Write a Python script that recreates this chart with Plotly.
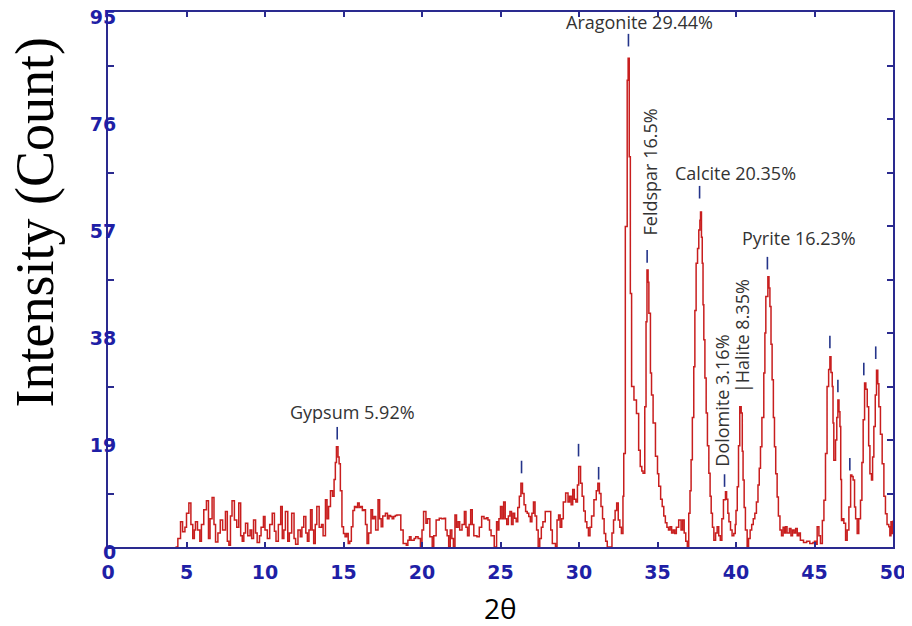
import plotly.graph_objects as go

# XRD trace (2-theta in degrees, intensity in counts)
two_theta = [
    4.3, 4.45, 4.62, 4.75, 4.9, 5.0, 5.15, 5.28, 5.4, 5.5,
    5.57, 5.7, 5.85, 5.95, 6.1, 6.27, 6.4, 6.5, 6.63, 6.75,
    6.85, 7.0, 7.15, 7.3, 7.48, 7.6, 7.7, 7.8, 7.9, 8.05,
    8.2, 8.33, 8.45, 8.55, 8.65, 8.76, 8.9, 9.05, 9.15, 9.27,
    9.4, 9.5, 9.65, 9.75, 9.9, 10.0, 10.15, 10.3, 10.46, 10.6,
    10.7, 10.85, 11.0, 11.1, 11.2, 11.3, 11.45, 11.55, 11.7, 11.85,
    11.95, 12.1, 12.25, 12.35, 12.47, 12.6, 12.7, 12.8, 12.9, 13.0,
    13.1, 13.2, 13.3, 13.45, 13.6, 13.7, 13.85, 13.95, 14.05, 14.17,
    14.3, 14.4, 14.48, 14.55, 14.65, 14.72, 14.8, 14.9, 15.0, 15.1,
    15.2, 15.3, 15.4, 15.5, 15.6, 15.7, 15.8, 15.9, 16.0, 16.1,
    16.2, 16.3, 16.4, 16.5, 16.6, 16.75, 16.85, 16.95, 17.05, 17.2,
    17.3, 17.4, 17.5, 17.67, 17.8, 17.9, 18.0, 18.1, 18.2, 18.3,
    18.4, 18.55, 18.65, 18.8, 19.0, 19.1, 19.2, 19.3, 19.5, 19.6,
    19.75, 19.9, 20.0, 20.1, 20.25, 20.35, 20.5, 20.65, 20.75, 20.9,
    21.1, 21.25, 21.4, 21.5, 21.6, 21.7, 21.8, 21.9, 22.0, 22.1,
    22.2, 22.3, 22.4, 22.55, 22.7, 22.8, 22.9, 23.0, 23.1, 23.2,
    23.3, 23.5, 23.65, 23.8, 23.95, 24.1, 24.2, 24.3, 24.4, 24.6,
    24.75, 24.85, 24.9, 25.0, 25.1, 25.2, 25.3, 25.4, 25.5, 25.6,
    25.7, 25.8, 25.9, 26.0, 26.1, 26.2, 26.3, 26.4, 26.5, 26.6,
    26.7, 26.8, 26.9, 27.0, 27.1, 27.2, 27.3, 27.4, 27.5, 27.6,
    27.7, 27.85, 28.1, 28.2, 28.3, 28.5, 28.6, 28.7, 28.8, 28.9,
    29.0, 29.15, 29.3, 29.4, 29.5, 29.6, 29.7, 29.8, 29.9, 29.98,
    30.1, 30.2, 30.3, 30.4, 30.5, 30.6, 30.7, 30.8, 30.95, 31.1,
    31.2, 31.3, 31.4, 31.5, 31.6, 31.7, 31.8, 32.0, 32.1, 32.2,
    32.3, 32.4, 32.5, 32.6, 32.7, 32.8, 32.85, 32.95, 33.07, 33.13,
    33.2, 33.27, 33.35, 33.5, 33.66, 33.8, 33.9, 34.0, 34.08, 34.19,
    34.27, 34.33, 34.4, 34.45, 34.55, 34.62, 34.72, 34.87, 35.0, 35.08,
    35.2, 35.3, 35.4, 35.5, 35.6, 35.7, 35.8, 35.9, 36.0, 36.1,
    36.2, 36.35, 36.5, 36.6, 36.7, 36.8, 36.9, 36.99, 37.07, 37.14,
    37.22, 37.31, 37.38, 37.46, 37.55, 37.63, 37.7, 37.74, 37.8, 37.85,
    37.9, 37.95, 38.02, 38.1, 38.18, 38.27, 38.35, 38.42, 38.5, 38.59,
    38.7, 38.8, 38.9, 39.0, 39.1, 39.2, 39.33, 39.4, 39.48, 39.55,
    39.65, 39.75, 39.86, 39.95, 40.0, 40.08, 40.16, 40.24, 40.33, 40.4,
    40.45, 40.52, 40.6, 40.71, 40.8, 40.9, 41.0, 41.1, 41.2, 41.3,
    41.4, 41.48, 41.56, 41.65, 41.77, 41.84, 41.9, 42.03, 42.1, 42.16,
    42.23, 42.3, 42.38, 42.45, 42.53, 42.62, 42.7, 42.8, 42.9, 43.0,
    43.1, 43.15, 43.25, 43.4, 43.5, 43.6, 43.7, 43.8, 43.9, 44.0,
    44.1, 44.3, 44.5, 44.7, 44.9, 45.0, 45.1, 45.17, 45.28, 45.38,
    45.5, 45.6, 45.7, 45.8, 45.9, 45.98, 46.05, 46.13, 46.18, 46.23,
    46.34, 46.42, 46.49, 46.56, 46.62, 46.67, 46.72, 46.8, 46.87, 46.98,
    47.08, 47.19, 47.3, 47.38, 47.46, 47.55, 47.62, 47.72, 47.82, 47.93,
    48.02, 48.1, 48.19, 48.27, 48.36, 48.45, 48.53, 48.63, 48.7, 48.78,
    48.87, 48.95, 49.03, 49.1, 49.2, 49.31, 49.42, 49.52, 49.62, 49.73,
    49.8, 49.87, 49.94, 50.0,
]
counts = [
    0, 1.5, 4.5, 2.7, 3.5, 6.0, 7.8, 4.0, 1.5, 3.0,
    4.5, 3.0, 1.0, 4.0, 6.6, 8.2, 1.5, 5.0, 8.8, 4.0,
    0.9, 2.5, 4.8, 3.0, 6.3, 1.0, 0.3, 5.5, 8.2, 4.8,
    3.5, 7.8, 2.0, 1.0, 2.5, 4.2, 2.0, 3.0, 1.5, 4.8,
    2.5, 0.8, 2.0, 3.5, 5.4, 3.0, 1.5, 4.0, 6.0, 2.8,
    1.0, 4.0, 7.2, 1.5, 3.0, 6.3, 1.0, 2.5, 6.0, 1.5,
    0.5, 3.0, 1.8, 3.5, 5.4, 2.5, 1.0, 3.0, 6.6, 3.0,
    0.6, 4.0, 7.2, 3.5, 4.0, 2.0, 8.4, 5.0, 7.2, 10.0,
    9.0, 12.0, 15.0, 17.8, 16.0, 14.8, 10.0, 3.6, 2.4, 1.8,
    2.4, 0.6, 1.0, 3.6, 6.5, 7.2, 7.0, 7.8, 7.0, 7.2,
    6.5, 6.6, 4.0, 0.6, 2.5, 6.6, 5.0, 5.4, 3.0, 8.4,
    5.0, 3.6, 5.5, 6.0, 5.0, 5.6, 5.4, 5.0, 5.4, 5.6,
    5.7, 5.7, 3.0, 0.6, 0.3, 1.2, 1.8, 1.2, 1.5, 1.8,
    1.5, 0, 3.0, 6.3, 4.2, 5.0, 1.8, 0, 2.0, 4.8,
    5.1, 5.0, 5.1, 3.0, 2.0, 0, 3.0, 1.5, 0, 5.7,
    3.5, 4.5, 3.0, 4.0, 6.3, 3.5, 2.0, 4.0, 6.6, 4.0,
    2.0, 1.8, 3.5, 5.4, 5.0, 5.2, 4.8, 3.0, 2.0, 0,
    4.5, 3.0, 5.0, 7.2, 5.0, 8.0, 5.0, 4.0, 5.5, 6.3,
    4.0, 6.0, 5.1, 4.5, 7.0, 9.0, 11.3, 9.5, 7.5, 6.3,
    6.0, 5.4, 4.5, 6.0, 8.0, 5.5, 3.0, 0, 1.5, 3.5,
    4.5, 6.3, 6.3, 3.0, 0.6, 0, 4.8, 5.7, 3.5, 5.0,
    8.0, 9.6, 8.0, 9.0, 7.5, 10.2, 8.5, 8.0, 11.0, 14.3,
    11.3, 9.0, 6.4, 4.5, 3.4, 2.0, 3.5, 5.5, 8.4, 10.0,
    11.3, 9.5, 7.2, 5.0, 2.4, 1.0, 0, 0, 2.5, 4.8,
    6.5, 7.8, 4.8, 3.5, 2.4, 9.0, 16.6, 56.9, 82.9, 86.8,
    69.3, 45.0, 28.5, 26.1, 23.7, 17.2, 14.3, 13.5, 13.1, 24.9,
    40.0, 49.2, 47.0, 41.5, 30.9, 27.0, 22.0, 16.1, 13.0, 10.8,
    8.5, 7.2, 5.5, 4.3, 3.5, 3.0, 3.6, 2.5, 3.0, 2.4,
    3.5, 4.8, 3.0, 4.8, 2.5, 1.0, 0, 6.0, 10.0, 15.5,
    23.0, 32.0, 42.0, 50.4, 53.0, 56.3, 58.0, 59.5, 55.0, 50.4,
    43.0, 36.8, 30.0, 23.8, 18.0, 13.1, 9.0, 6.0, 3.5, 1.2,
    2.5, 3.6, 2.0, 1.2, 5.0, 8.4, 9.8, 8.5, 6.0, 4.5,
    3.0, 2.0, 2.4, 4.0, 6.5, 10.7, 18.0, 24.9, 23.8, 17.0,
    11.9, 7.0, 3.0, 0, 1.5, 3.0, 4.0, 5.0, 6.0, 8.0,
    11.0, 14.0, 17.8, 23.0, 30.9, 38.0, 44.5, 48.0, 46.0, 42.7,
    36.0, 29.7, 23.0, 17.8, 13.0, 8.9, 5.5, 3.0, 2.0, 3.5,
    2.5, 3.6, 2.5, 3.3, 2.0, 3.0, 2.5, 3.3, 2.0, 2.5,
    1.2, 0.8, 1.0, 0.6, 0.8, 1.0, 0.5, 3.6, 2.0, 0.6,
    4.7, 8.3, 16.6, 28.5, 31.5, 33.8, 31.0, 28.5, 22.0, 15.4,
    19.0, 23.0, 26.1, 24.0, 21.4, 12.0, 4.7, 5.0, 4.2, 1.2,
    3.0, 7.1, 12.8, 12.5, 11.9, 7.1, 5.0, 2.4, 5.0, 8.3,
    15.0, 22.6, 29.1, 28.0, 24.9, 18.0, 13.0, 11.9, 16.0, 21.4,
    27.0, 31.4, 29.0, 24.9, 20.0, 14.8, 9.0, 5.9, 4.0, 3.6,
    2.0, 4.5, 2.4, 4.7,
]

# identified reflections (small blue tick marks above the peaks)
peak_theta = [14.6, 26.34, 29.97, 31.25, 33.15, 34.34, 37.68, 39.27, 42.0,
              45.98, 46.49, 47.25, 48.14, 48.9]
peak_mark = [20.2, 14.2, 17.2, 13.1, 90.0, 51.6, 63.0, 11.8, 50.4,
             36.4, 28.6, 14.7, 31.6, 34.5]

# phase labels: text, 2theta, intensity, rotated?
phase_text = ["Gypsum 5.92%", "Aragonite 29.44%", "Feldspar 16.5%", "Calcite 20.35%",
              "Pyrite 16.23%", "Dolomite 3.16%", "|Halite 8.35%"]
phase_x = [15.6, 33.85, 34.49, 39.95, 44.0, 39.14, 40.4]
phase_y = [24.0, 93.2, 66.6, 66.4, 54.9, 25.9, 37.5]
phase_rot = [False, False, True, False, False, True, True]

y_ticks = [0, 19, 38, 57, 76, 95]
x_ticks = [0, 5, 10, 15, 20, 25, 30, 35, 40, 45, 50]

navy = "#2a2a8f"
label_blue = "#1f1fa6"

fig = go.Figure()
fig.add_trace(go.Scatter(x=two_theta, y=counts, mode="lines",
                         line=dict(color="#c81e1e", width=1.5, shape="hv"),
                         hoverinfo="x+y", showlegend=False))
fig.add_trace(go.Scatter(x=peak_theta, y=peak_mark, mode="markers",
                         marker=dict(symbol="line-ns", size=9,
                                     line=dict(color="#24348a", width=1.6)),
                         hoverinfo="skip", showlegend=False))

for txt, px_, py_, rot in zip(phase_text, phase_x, phase_y, phase_rot):
    fig.add_annotation(x=px_, y=py_, text=txt, showarrow=False,
                       textangle=-90 if rot else 0,
                       xanchor="center", yanchor="middle",
                       font=dict(family="Open Sans", size=18, color="#333333"))

# axis titles
fig.add_annotation(text="Intensity (Count)", xref="paper", yref="paper",
                   x=-0.0924, y=0.6075, textangle=-90, showarrow=False,
                   xanchor="center", yanchor="middle",
                   font=dict(family="Liberation Serif", size=54, color="black"))
fig.add_annotation(text="2θ", xref="paper", yref="paper",
                   x=0.5, y=-0.114, showarrow=False,
                   xanchor="center", yanchor="middle",
                   font=dict(family="Open Sans", size=28, color="black"))

fig.update_xaxes(range=[0, 50], tickvals=x_ticks, ticks="inside", ticklen=5,
                 tickcolor=navy, tickwidth=1.5,
                 showline=True, linecolor=navy, linewidth=1.8, mirror="allticks",
                 showgrid=False, zeroline=False, automargin=False,
                 tickfont=dict(family="DejaVu Sans", size=19, color=label_blue,
                               weight="bold"),
                 ticklabelstandoff=7)
fig.update_yaxes(range=[0, 95], tickvals=y_ticks, ticks="inside", ticklen=6,
                 tickcolor=navy, tickwidth=1.5,
                 minor=dict(dtick=9.5, ticks="inside", ticklen=6, tickcolor=navy),
                 showline=True, linecolor=navy, linewidth=1.8, mirror="allticks",
                 showgrid=False, zeroline=False, automargin=False,
                 tickfont=dict(family="DejaVu Sans", size=19, color=label_blue,
                               weight="bold"),
                 ticklabeloverflow="allow",
                 ticklabelstandoff=-14, ticklabelshift=5)

# the page body adds an 8px offset, so the figure is 8px smaller and margins shrink
fig.update_layout(width=904, height=618,
                  margin=dict(l=100, r=19, t=4, b=79),
                  paper_bgcolor="white", plot_bgcolor="white",
                  showlegend=False)

fig.write_html("out.html")
